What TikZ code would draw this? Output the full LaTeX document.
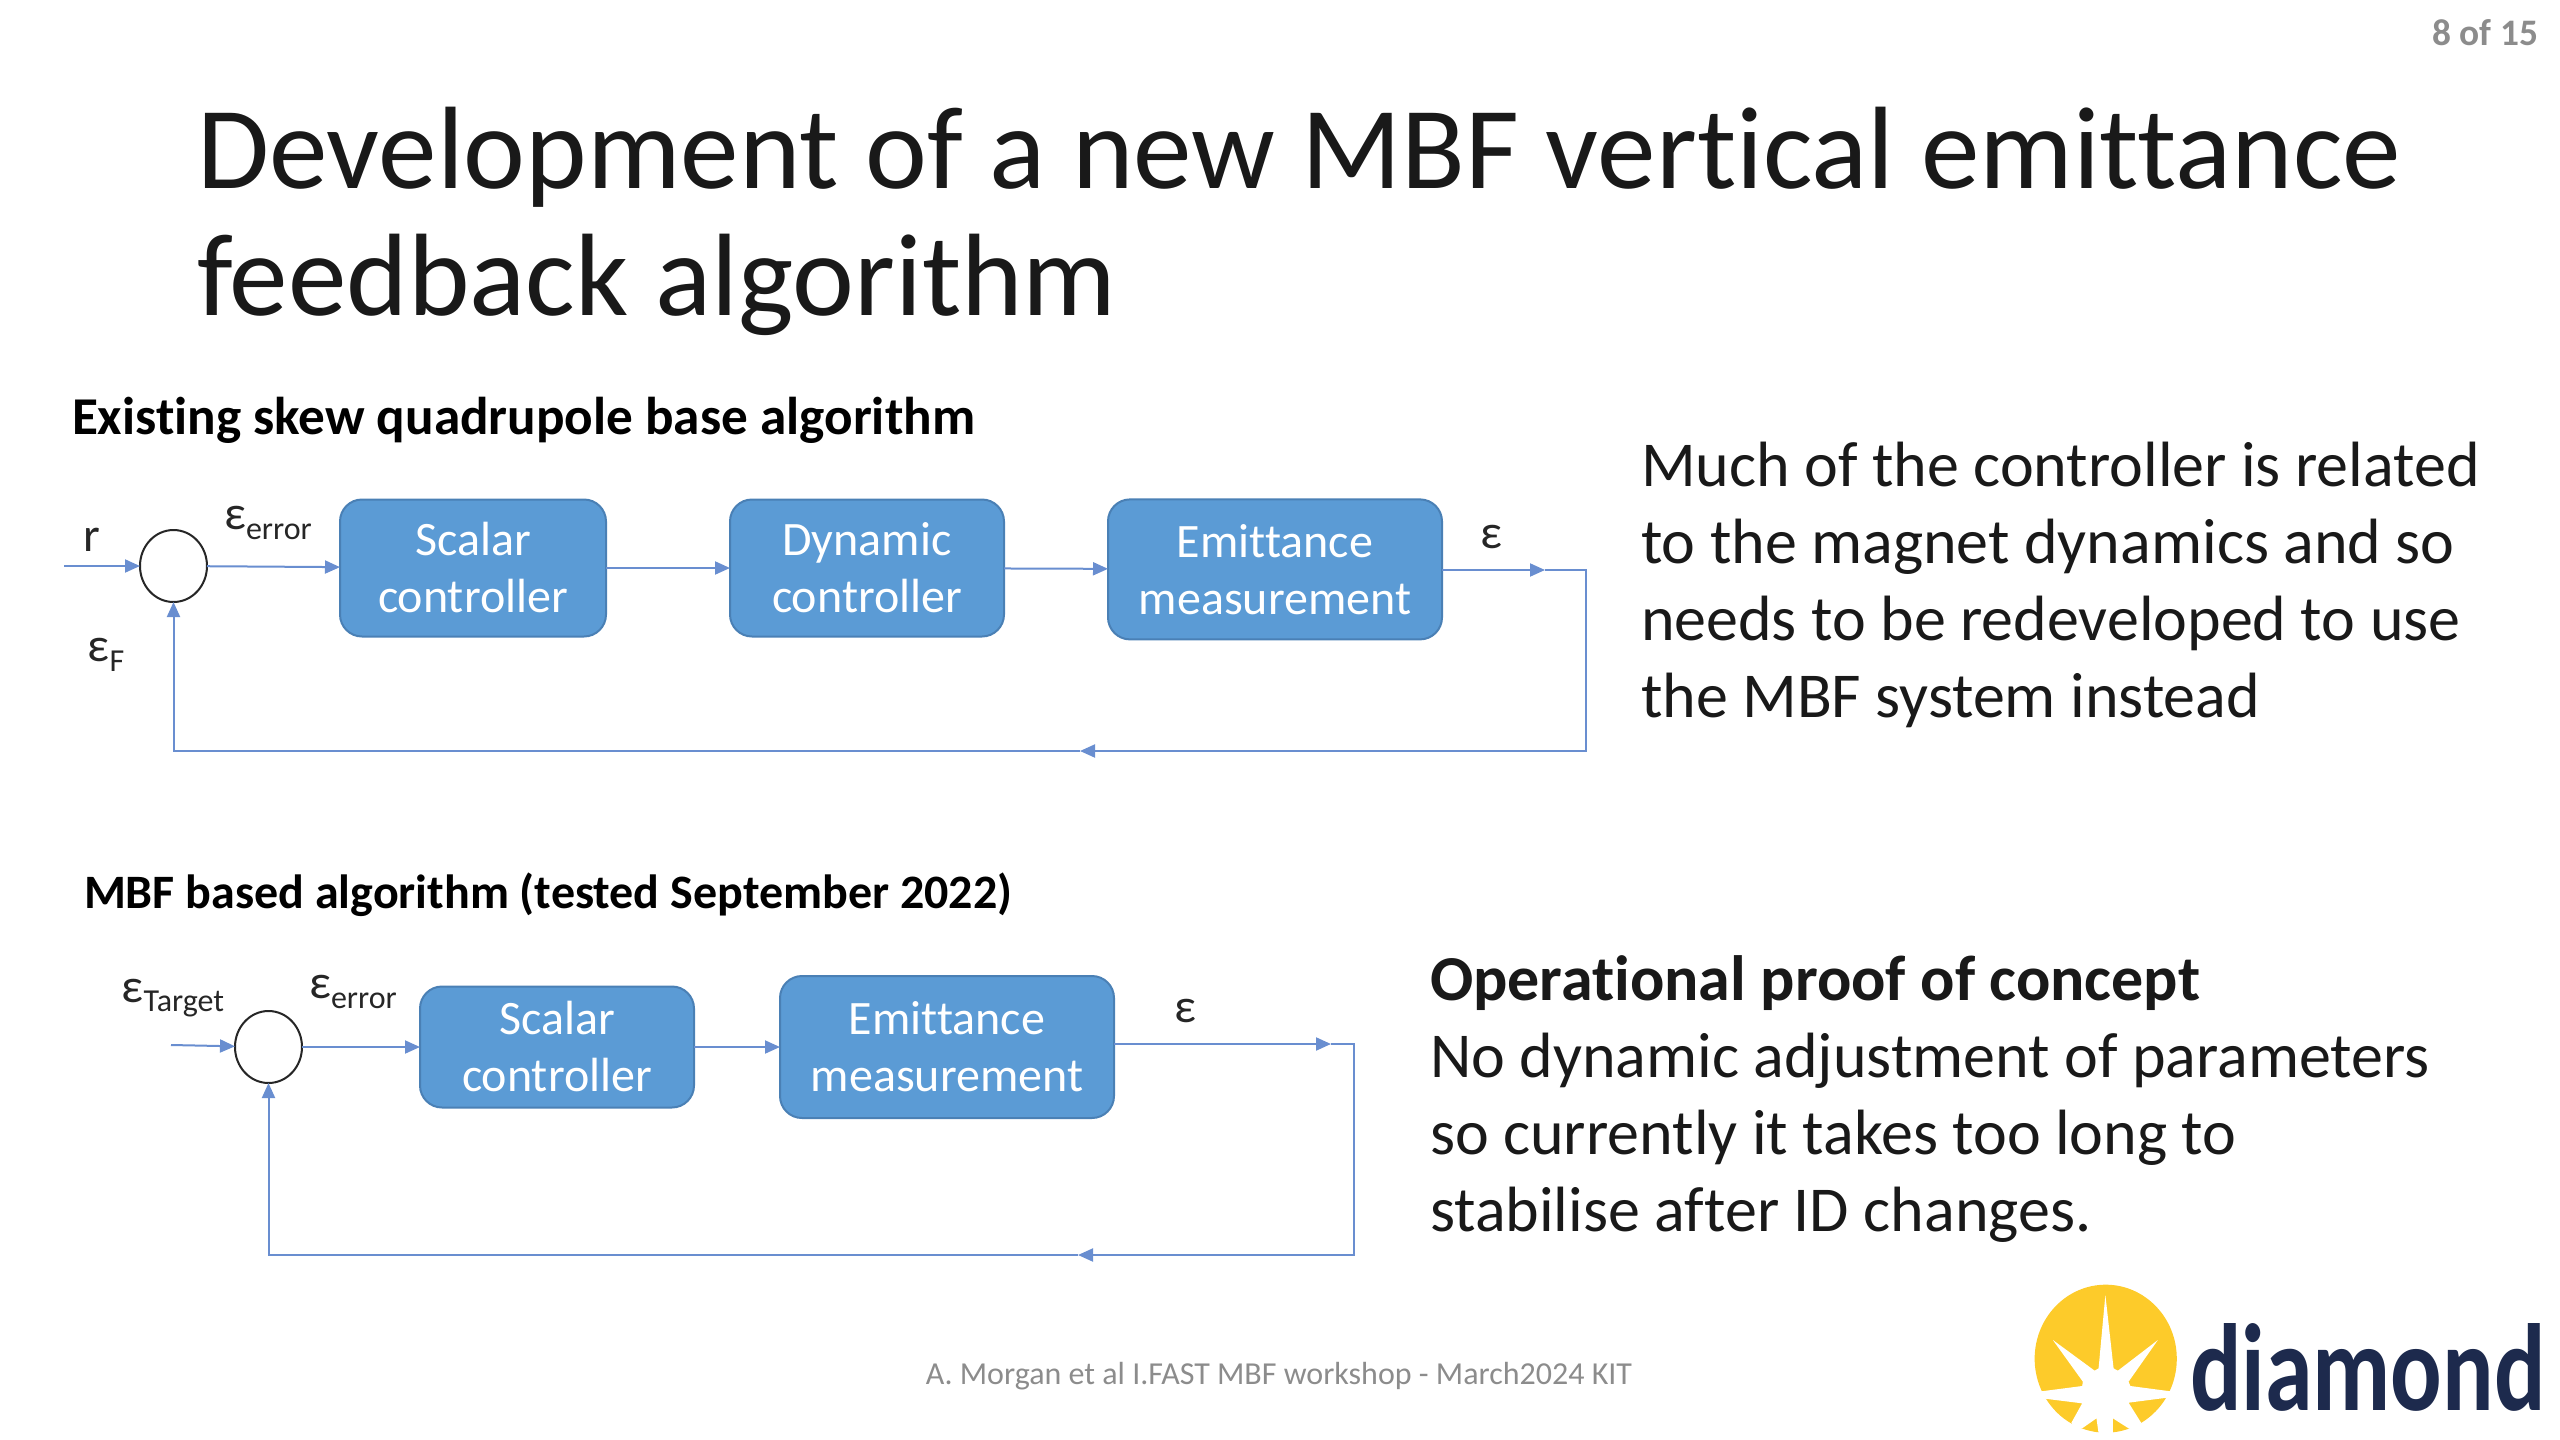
\documentclass[tikz,border=0pt]{standalone}
\usepackage{fontspec}
\setmainfont[Ligatures=CommonOff]{Carlito}
\usepackage{xcolor}
\usetikzlibrary{positioning, arrows.meta, shapes.geometric}

\definecolor{boxblue}{HTML}{5B9BD5}
\definecolor{boxedge}{HTML}{4A80B5}
\definecolor{wireblue}{HTML}{4472C4}
\definecolor{logoyellow}{HTML}{FDCB2A}
\definecolor{logonavy}{HTML}{1D2A4D}
\definecolor{softgrey}{HTML}{8C8C8C}

\newcommand{\fsz}[2]{\fontsize{#1}{#2}\selectfont}
\newcommand{\lowtxt}[1]{\raisebox{-0.2em}{\fsz{16}{16}#1}}

\begin{document}
\begin{tikzpicture}[
  x=0.5pt, y=-0.5pt,
  >={Triangle[length=7.5pt,width=6.5pt]},
  every node/.style={inner sep=0pt, outer sep=0pt}
]
\tikzset{
  blockbox/.style ={draw=boxedge, line width=1pt, fill=boxblue, rounded corners=11pt,
                    align=center, text=white, font=\fsz{24}{28.5}},
  sumnode/.style  ={ellipse, draw=black!85, line width=1pt, fill=white,
                    minimum width=33.5pt, minimum height=36pt},
  wire/.style     ={draw=wireblue!80, line width=1pt},
  arr/.style      ={wire, ->},
  lab/.style      ={font=\fsz{24}{28}, text=black!85},
  head/.style     ={anchor=west, font=\fsz{24}{28}\bfseries, text=black},
  body/.style     ={anchor=west, align=left, font=\fsz{32}{38.5}, text=black!90}
}
\useasboundingbox (0,0) rectangle (2560,1440);

%% ----- Title and page furniture -----
\node[anchor=west, align=left, font=\fsz{58.6}{63.5}, text=black!90] (title) at (197,221)
  {Development of a new MBF vertical emittance\\feedback algorithm};
\node[anchor=east, font=\fsz{18.7}{20}\bfseries, text=softgrey] (page) at (2538,33) {8 of 15};
\node[font=\fsz{16}{20}, text=softgrey] (foot) at (1279,1376)
  {A. Morgan et al I.FAST MBF workshop - March2024 KIT};

%% ----- Top: skew quadrupole loop -----
\node[head, font=\fsz{26.6}{30}\bfseries] (headA) at (72,420) {Existing skew quadrupole base algorithm};
\coordinate (inA) at (64,566);
\node[sumnode] (sumA) at (173.5,566) {};
\node[blockbox, minimum width=133pt, minimum height=68.5pt,
  right=66.5pt of sumA, yshift=-1pt] (scalarA) {Scalar\\controller};
\node[blockbox, minimum width=137pt, minimum height=68.5pt,
  right=62pt of scalarA] (dynA) {Dynamic\\controller};
\node[blockbox, minimum width=167pt, minimum height=70pt,
  right=52pt of dynA, yshift=-0.7pt] (emitA) {Emittance\\measurement};
\coordinate (outA) at (1545,570);
\coordinate (cornerA) at (1586,570);
\coordinate (backA) at (1080,751);

\draw[arr] (inA) -- (sumA);
\draw[arr] (sumA) -- (scalarA);
\draw[arr] (scalarA) -- (dynA);
\draw[arr] (dynA) -- (emitA);
\draw[arr] (emitA.east |- outA) -- (outA);
\draw[arr] (outA) -- (cornerA) |- (backA);
\draw[arr] (backA) -| (sumA.south);

\node[lab] (labrA) at (92,540) {r};
\node[lab] (laberrA) at (268,523) {ε\lowtxt{error}};
\node[lab] (labfA) at (106,655) {ε\lowtxt{F}};
\node[lab] (labeA) at (1491,537) {ε};

\node[body] (textA) at (1641,585)
  {Much of the controller is related\\to the magnet dynamics and so\\needs to be redeveloped to use\\the MBF system instead};

%% ----- Bottom: MBF loop -----
\node[head] (headB) at (84,895) {MBF based algorithm (tested September 2022)};
\coordinate (inB) at (171,1045);
\node[sumnode] (sumB) at (268.5,1047) {};
\node[blockbox, minimum width=137pt, minimum height=60.5pt,
  right=59pt of sumB] (scalarB) {Scalar\\controller};
\node[blockbox, minimum width=167pt, minimum height=71pt,
  right=43pt of scalarB] (emitB) {Emittance\\measurement};
\coordinate (outB) at (1331,1044);
\coordinate (cornerB) at (1354,1044);
\coordinate (backB) at (1078,1255);

\draw[arr] (inB) -- (sumB);
\draw[arr] (sumB) -- (scalarB);
\draw[arr] (scalarB) -- (emitB);
\draw[arr] (emitB.east |- outB) -- (outB);
\draw[arr] (outB) -- (cornerB) |- (backB);
\draw[arr] (backB) -| (sumB.south);

\node[lab] (labtB) at (173,998) {ε\lowtxt{Target}};
\node[lab] (laberrB) at (353,992) {ε\lowtxt{error}};
\node[lab] (labeB) at (1185,1011) {ε};

\node[body] (textB) at (1430,1099)
  {\textbf{Operational proof of concept}\\No dynamic adjustment of parameters\\so currently it takes too long to\\stabilise after ID changes.};

%% ----- Logo -----
\begin{scope}[shift={(2000,1260)}, x=0.17857pt, y=-0.16667pt]
  \fill[logoyellow] (296,296) ellipse [x radius=199, y radius=222];
  \fill[white] (295,105) -- (318,325) -- (330,332) -- (442,240) -- (360,365) -- (365,378)
    -- (485,395) -- (475,412) -- (360,428) -- (395,488) -- (385,515) -- (360,505)
    -- (316,475) -- (316,535) -- (278,535) -- (270,475) -- (230,505) -- (208,505)
    -- (200,488) -- (230,430) -- (118,415) -- (108,395) -- (230,378) -- (232,365)
    -- (148,240) -- (265,332) -- (276,325) -- cycle;
\end{scope}
\node[anchor=base west, font=\fsz{62}{70}\bfseries, text=logonavy,
  xscale=0.775, transform shape] (logotext) at (2190,1410) {diamond};

\end{tikzpicture}
\end{document}
